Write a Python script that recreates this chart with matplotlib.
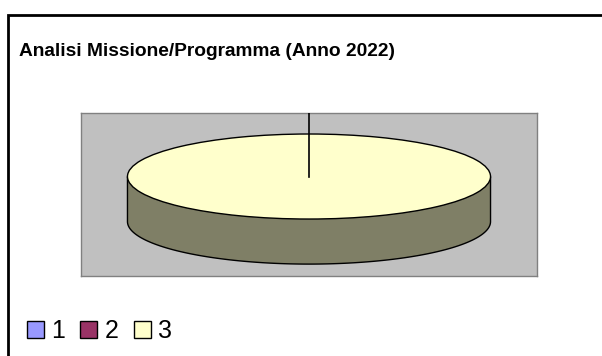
import numpy as np
import matplotlib
matplotlib.use("Agg")
import matplotlib.pyplot as plt
from matplotlib.patches import Rectangle

plt.rcParams['font.family'] = ['Liberation Sans', 'DejaVu Sans']

# Data
labels = ["1", "2", "3"]
values = [0, 0, 100]
colors = ["#9999ff", "#993366", "#ffffcc"]
side_color = "#7f7f66"
title = "Analisi Missione/Programma (Anno 2022)"

depth = 1.06  # thickness of the 3D disc, in radius units

fig = plt.figure(figsize=(6.02, 3.56), dpi=100)
fig.patch.set_facecolor("white")

# outer chart frame (only top and left visible)
fig.add_artist(Rectangle((8 / 602, -0.2), 1.5, 0.2 + 341 / 356, transform=fig.transFigure,
                         fill=False, edgecolor="black", linewidth=2))

fig.text(19 / 602, 304 / 356, title, fontsize=13.8, fontweight="bold", va="center", ha="left")

ax = fig.add_axes([81 / 602, 80 / 356, 456 / 602, 163 / 356])
ax.set_facecolor("#c0c0c0")

# side of the disc (lower half of the bottom ellipse joined to the rim)
t = np.linspace(np.pi, 2 * np.pi, 200)
sx = np.concatenate([[-1], np.cos(t), [1]])
sy = np.concatenate([[0], np.sin(t) - depth, [0]])
ax.fill(sx, sy, facecolor=side_color, edgecolor="black", linewidth=1, zorder=2)

# top of the disc
wedges, _ = ax.pie(values, colors=colors, startangle=90, counterclock=False,
                   wedgeprops=dict(edgecolor="black", linewidth=1), frame=True)
for w in wedges:
    w.set_zorder(3)

ax.set_aspect("auto")
ax.set_xlim(-1.256, 1.256)
ax.set_ylim(-2.34, 1.494)
ax.set_xticks([])
ax.set_yticks([])
for s in ax.spines.values():
    s.set_color("#808080")
    s.set_linewidth(1)

# slice boundary line for the empty slices
ang = np.deg2rad(90)
ax.plot([0, 1.494 * np.cos(ang)], [0, 1.494 * np.sin(ang)], color="black", linewidth=1.2, zorder=4)

fig.legend(wedges, labels, loc="center left", bbox_to_anchor=(27 / 602, 25 / 356),
           ncol=3, frameon=False, fontsize=18, handlelength=0.68, handleheight=0.68,
           handletextpad=0.3, columnspacing=0.6, borderaxespad=0, borderpad=0)

fig.savefig("out.png", dpi=100)
